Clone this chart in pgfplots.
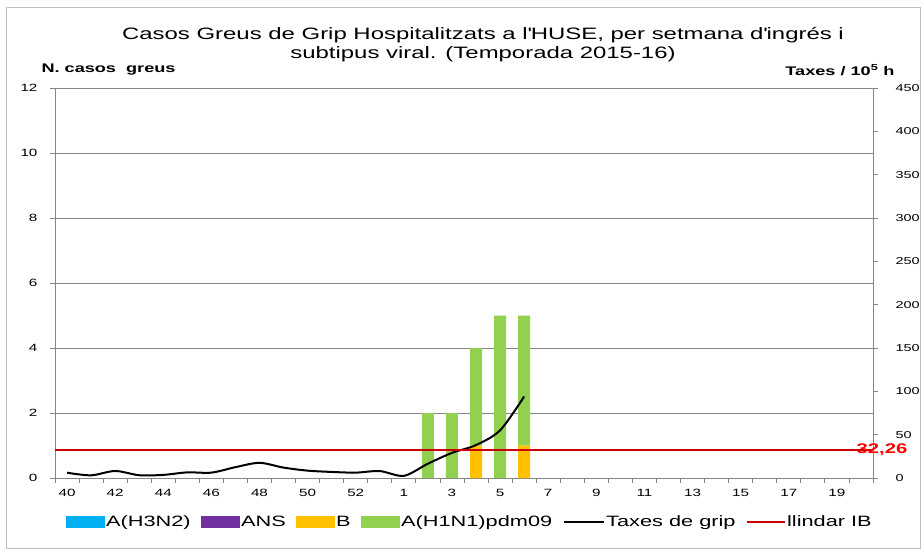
\documentclass[border=0pt]{standalone}
\usepackage{fontspec}
\setmainfont{Liberation Sans}[FakeStretch=1.45]
\usepackage{pgfplots}
\pgfplotsset{compat=1.18}
\definecolor{h3n2}{HTML}{00B0F0}
\definecolor{ans}{HTML}{7030A0}
\definecolor{bcol}{HTML}{FFC000}
\definecolor{h1n1}{HTML}{92D050}
\definecolor{gridc}{RGB}{134,134,134}
\definecolor{thr}{RGB}{204,0,0}
\definecolor{lblred}{RGB}{255,0,0}
\begin{document}
\begin{tikzpicture}
\begin{axis}[
  at={(0pt,0pt)}, anchor=south west,
  scale only axis, width=818pt, height=390pt,
  xmin=-0.5, xmax=33.5, ymin=0, ymax=12,
  ytick={0,2,...,12},
  axis y line*=left, axis x line*=bottom,
  axis line style={gridc, line width=0.8pt},
  ymajorgrids, grid style={gridc, line width=0.8pt},
  tick align=outside, major tick length=5pt,
  tick style={gridc, line width=0.8pt},
  xtick={-0.5,0.5,...,33.5}, xticklabels={},
  extra x ticks={0,2,...,32},
  extra x tick labels={40,42,44,46,48,50,52,1,3,5,7,9,11,13,15,17,19},
  extra x tick style={major tick length=0pt, xticklabel style={yshift=-8pt}},
  ticklabel style={font=\fontsize{10.5}{12}\selectfont},
  yticklabel style={xshift=-9pt},
  /pgf/number format/assume math mode=true,
  ybar stacked, bar width=12pt,
]
\addplot[fill=h3n2, draw=none] coordinates {(15,0) (16,0) (17,0) (18,0) (19,0)};
\addplot[fill=ans, draw=none] coordinates {(15,0) (16,0) (17,0) (18,0) (19,0)};
\addplot[fill=bcol, draw=none] coordinates {(15,0) (16,0) (17,1) (18,0) (19,1)};
\addplot[fill=h1n1, draw=none] coordinates {(15,2) (16,2) (17,3) (18,5) (19,4)};
\end{axis}
\begin{axis}[
  at={(0pt,0pt)}, anchor=south west,
  scale only axis, width=818pt, height=390pt,
  xmin=-0.5, xmax=33.5, ymin=0, ymax=450,
  ytick={0,50,...,450},
  axis y line*=right, axis x line=none,
  axis line style={gridc, line width=0.8pt},
  tick align=outside, major tick length=5pt,
  tick style={gridc, line width=0.8pt},
  ticklabel style={font=\fontsize{10}{11}\selectfont},
  yticklabel style={xshift=14pt},
  /pgf/number format/assume math mode=true,
  clip=false,
  legend columns=6,
  legend cell align=left,
  legend style={at={(0.507,-0.113)}, anchor=center, draw=none, fill=none,
    font=\fontsize{15}{17}\selectfont,
    nodes={inner sep=1.5pt},
    /tikz/every odd column/.append style={column sep=0pt},
    /tikz/every even column/.append style={column sep=9pt}},
]
\addlegendimage{legend image code/.code={\fill[h3n2] (0pt,-5.5pt) rectangle (38pt,5.5pt);}}
\addlegendentry{A(H3N2)}
\addlegendimage{legend image code/.code={\fill[ans] (0pt,-5.5pt) rectangle (38pt,5.5pt);}}
\addlegendentry{ANS}
\addlegendimage{legend image code/.code={\fill[bcol] (0pt,-5.5pt) rectangle (38pt,5.5pt);}}
\addlegendentry{B}
\addlegendimage{legend image code/.code={\fill[h1n1] (0pt,-5.5pt) rectangle (38pt,5.5pt);}}
\addlegendentry{A(H1N1)pdm09}
\addplot[black, line width=2pt, smooth, tension=0.5,
  legend image code/.code={\draw[black, line width=2pt] (0pt,0pt)--(40pt,0pt);}]
  coordinates {(0,6.1) (1,3.1) (2,8.1) (3,3.2) (4,3.6) (5,6.5) (6,6.2) (7,12.5)
    (8,17.5) (9,12) (10,8.5) (11,7) (12,6.2) (13,8) (14,2.5) (15,16.5)
    (16,29) (17,38) (18,55) (19,94)};
\addlegendentry{Taxes de grip}
\addplot[thr, line width=1.5pt,
  legend image code/.code={\draw[thr, line width=1.5pt] (0pt,0pt)--(38pt,0pt);}]
  coordinates {(-0.5,32.26) (33.5,32.26)};
\addlegendentry{llindar IB}
\node[font=\fontsize{14}{16}\selectfont\bfseries, text=lblred, xshift=9pt] at (axis cs:33.5,32.26) {32,26};
\end{axis}
\node[align=center, font=\fontsize{16.5}{19}\selectfont] at (428pt,433pt)
  {Casos Greus de Grip Hospitalitzats a l\textquotesingle HUSE, per setmana d\textquotesingle ingrés i\\subtipus viral. (Temporada 2015-16)};
\node[anchor=west, font=\fontsize{12.5}{14}\selectfont\bfseries] at (-17pt,408pt) {N. casos\ \ greus};
\node[anchor=east, font=\fontsize{12.5}{14}\selectfont\bfseries] at (843pt,408pt) {Taxes / 10\textsuperscript{5} h};
\draw[gray!50, line width=1pt] (-48pt,-70pt) rectangle (865pt,470pt);
\pgfresetboundingbox
\path (-55pt,-74pt) rectangle (869pt,478pt);
\end{tikzpicture}
\end{document}
